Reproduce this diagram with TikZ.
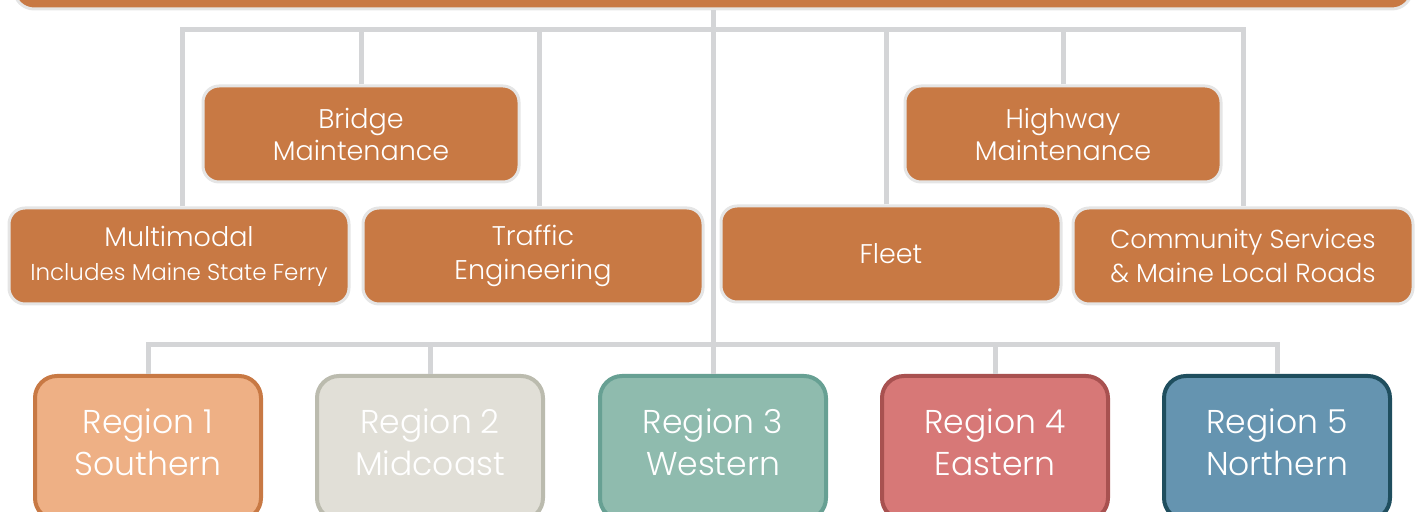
\documentclass[tikz,border=0pt]{standalone}
\usepackage{fontspec}
\setmainfont{Poppins Light}
\usetikzlibrary{positioning}

\definecolor{rust}{RGB}{200,121,68}
\definecolor{halo}{RGB}{229,229,229}
\definecolor{wire}{RGB}{212,213,215}
\definecolor{peach}{RGB}{238,176,133}
\definecolor{peachline}{RGB}{200,121,68}
\definecolor{stone}{RGB}{225,223,215}
\definecolor{stoneline}{RGB}{187,187,174}
\definecolor{sage}{RGB}{143,187,174}
\definecolor{sageline}{RGB}{103,160,147}
\definecolor{rose}{RGB}{215,120,119}
\definecolor{roseline}{RGB}{168,81,80}
\definecolor{steel}{RGB}{101,148,176}
\definecolor{steelline}{RGB}{31,78,94}

\begin{document}
\begin{tikzpicture}[x=0.5pt, y=-0.5pt,
    unit/.style={rounded corners=8pt, fill=rust, draw=halo, line width=1.5pt, text=white,
        align=center, inner sep=0pt, minimum height=48pt, font=\fontsize{13.5}{16}\selectfont},
    region/.style={rounded corners=11pt, line width=2pt, inner sep=0pt,
        minimum width=113pt, minimum height=72pt},
    regtext/.style={text=white, align=center, yshift=3pt, font=\fontsize{16.5}{21}\selectfont},
    link/.style={draw=wire, line width=2.5pt}]
    \useasboundingbox (0,0) rectangle (1426,512);

    % top box, cut off by the page
    \node[unit, rounded corners=10pt, minimum width=699pt, minimum height=30pt] (dept) at (713,-21) {};

    \node[unit, minimum width=158pt] (bridge) at (361,134) {Bridge\\Maintenance};
    \node[unit, minimum width=158pt] (highway) at (1063,134) {Highway\\Maintenance};
    \node[unit, minimum width=170pt, font=\fontsize{13.5}{17}\selectfont] (multi) at (179,256) {Multimodal\\{\fontsize{11.5}{17}\selectfont Includes Maine State Ferry}};
    \node[unit, minimum width=170pt, font=\fontsize{13.5}{17}\selectfont] (traffic) at (533,256) {Traffic\\Engineering};
    \node[unit, minimum width=170pt] (fleet) at (891,254) {Fleet};
    \node[unit, minimum width=170pt, font=\fontsize{13}{17}\selectfont] (comm) at (1243,256) {Community Services\\\& Maine Local Roads};

    \node[region, fill=peach, draw=peachline, label={[regtext]center:Region 1\\Southern}] (r1) at (148,448) {};
    \node[region, fill=stone, draw=stoneline, label={[regtext]center:Region 2\\Midcoast}] (r2) at (430,448) {};
    \node[region, fill=sage, draw=sageline, label={[regtext]center:Region 3\\Western}] (r3) at (713,448) {};
    \node[region, fill=rose, draw=roseline, label={[regtext]center:Region 4\\Eastern}] (r4) at (995,448) {};
    \node[region, fill=steel, draw=steelline, label={[regtext]center:Region 5\\Northern}] (r5) at (1277,448) {};

    \coordinate (upbar) at (713,30);
    \coordinate (lowbar) at (713,345);

    % connectors
    \draw[link] (dept.south) -- (r3.north);
    \draw[link] ([xshift=1.5pt]multi.north) -- ([xshift=1.5pt]multi.north |- upbar) -- (comm.north |- upbar) -- (comm.north);
    \draw[link] (bridge.north) -- (bridge.north |- upbar);
    \draw[link] ([xshift=3pt]traffic.north) -- ([xshift=3pt]traffic.north |- upbar);
    \draw[link] ([xshift=-2.5pt]fleet.north) -- ([xshift=-2.5pt]fleet.north |- upbar);
    \draw[link] (highway.north) -- (highway.north |- upbar);
    \draw[link] (r1.north) -- (r1.north |- lowbar) -- (r5.north |- lowbar) -- (r5.north);
    \draw[link] (r2.north) -- (r2.north |- lowbar);
    \draw[link] (r4.north) -- (r4.north |- lowbar);
\end{tikzpicture}
\end{document}
